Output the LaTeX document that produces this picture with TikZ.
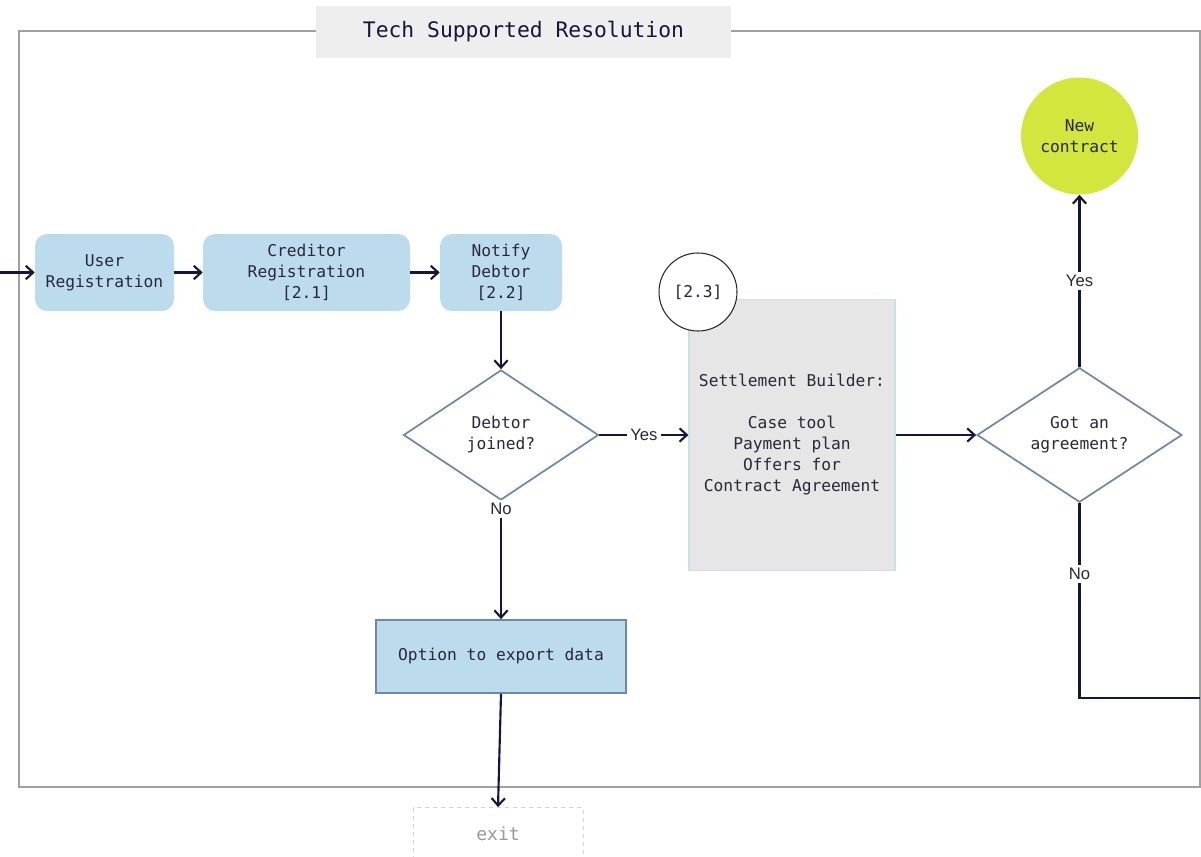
\documentclass[tikz,border=0pt]{standalone}
\usepackage{fontspec}
\setmonofont{DejaVu Sans Mono}
\newfontfamily\labelfont{Liberation Sans}
\usetikzlibrary{shapes.geometric,arrows.meta}
\definecolor{boxblue}{RGB}{188,220,238}
\definecolor{steel}{RGB}{110,136,165}
\definecolor{navy}{RGB}{22,22,58}
\definecolor{inktext}{RGB}{40,40,58}
\definecolor{framegray}{RGB}{160,160,160}
\definecolor{titlegray}{RGB}{238,238,238}
\definecolor{panelgray}{RGB}{230,230,230}
\definecolor{paneledge}{RGB}{200,225,236}
\definecolor{lime}{RGB}{210,230,62}
\begin{document}
\begin{tikzpicture}[x=0.75pt,y=-0.75pt,
  every node/.style={font=\ttfamily\fontsize{12.2}{15.75}\selectfont, text=inktext, align=center, inner sep=0pt},
  roundbox/.style={rectangle, rounded corners=9pt, fill=boxblue, minimum height=57.75pt},
  plainbox/.style={rectangle, fill=boxblue, draw=steel, line width=1.3pt},
  decision/.style={diamond, draw=steel, line width=1.3pt, fill=white},
  flow/.style={draw=navy, line width=1.6pt, -{Straight Barb[length=5.5pt,width=10pt,line width=1.6pt]}},
  plainflow/.style={draw=navy, line width=1.6pt},
  tag/.style={font=\labelfont\fontsize{12.5}{14}\selectfont, text=inktext, fill=white, inner sep=2.5pt}
]
\useasboundingbox (0,0) rectangle (1201,856);

% outer frame and its title
\draw[framegray, line width=0.8pt] (19,31) rectangle (1200,787);
\node[rectangle, fill=titlegray, minimum width=311.25pt, minimum height=39pt,
      font=\ttfamily\fontsize{16}{18}\selectfont, text=navy] (title) at (523.5,32) {Tech Supported Resolution};

% registration steps
\coordinate (entry) at (0,272.5);
\node[roundbox, minimum width=104.25pt] (user) at (104.5,272.5) {User\\Registration};
\node[roundbox, minimum width=155.25pt] (cred) at (306.5,272.5) {Creditor\\Registration\\{}[2.1]};
\node[roundbox, minimum width=91.5pt] (notify) at (501,272.5) {Notify\\Debtor\\{}[2.2]};

% first decision
\node[decision, minimum width=146.25pt, minimum height=97.5pt] (joined) at (501,435) {Debtor\\joined?};

% settlement builder panel and its badge
\node[rectangle, fill=panelgray, draw=paneledge, line width=0.8pt,
      minimum width=154.5pt, minimum height=203.25pt] (settle) at (792,435)
      {Settlement Builder:\\[15.75pt]Case tool\\Payment plan\\Offers for\\Contract Agreement};
\node[circle, draw=inktext, line width=0.8pt, fill=white, minimum size=58.5pt] (badge) at (698,292) {[2.3]};

% second decision and outcome
\node[decision, minimum width=153.75pt, minimum height=94.5pt] (agree) at (1079.5,435) {Got an\\agreement?};
\node[circle, fill=lime, minimum size=87.75pt] (contract) at (1079.5,136) {New\\contract};

% export branch
\node[plainbox, minimum width=187.5pt, minimum height=54.75pt] (export) at (501,656.5) {Option to export data};
\node[rectangle, draw=framegray!45, dashed, line width=0.6pt, minimum width=127.5pt, minimum height=39pt,
      text=framegray!95!black, font=\ttfamily\fontsize{13.5}{15}\selectfont] (exit) at (498,833.5) {exit};
\coordinate (noend) at (1200,698);

% connectors
\draw[flow] (entry) -- (user.west);
\draw[flow] (user.east) -- (cred.west);
\draw[flow] (cred.east) -- (notify.west);
\draw[flow] (notify.south) -- (joined.north);
\draw[flow] (joined.east) -- node[tag] {Yes} (settle.west);
\draw[flow] (joined.south) -- node[tag, pos=0.07] {No} (export.north);
\draw[flow] (settle.east) -- (agree.west);
\draw[flow] (agree.north) -- node[tag, pos=0.5] {Yes} (contract.south);
\draw[plainflow] (agree.south) -- node[tag, pos=0.365] {No} (agree.south |- noend) -- (noend);
\draw[flow] (export.south) -- (exit.north);
\end{tikzpicture}
\end{document}
